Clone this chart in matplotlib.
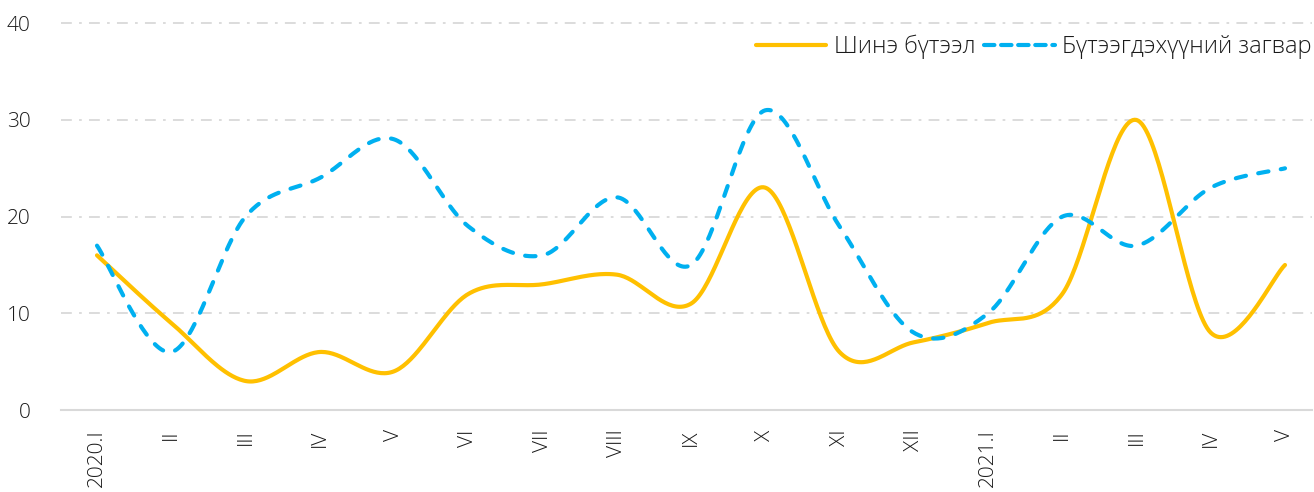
import matplotlib
matplotlib.use("Agg")
import matplotlib.pyplot as plt
import numpy as np
from matplotlib.lines import Line2D

plt.rcParams['font.family'] = ['Open Sans', 'DejaVu Sans']
plt.rcParams['font.weight'] = 'light'

categories = ["2020.I", "II", "III", "IV", "V", "VI", "VII", "VIII", "IX", "X",
              "XI", "XII", "2021.I", "II", "III", "IV", "V"]
new_build = [16, 9, 3, 6, 4, 12, 13, 14, 11, 23, 6, 7, 9, 12, 30, 8, 15]
product_model = [17, 6, 20, 24, 28, 19, 16, 22, 15, 31, 19, 8, 10, 20, 17, 23, 25]
series_names = ["Шинэ бүтээл", "Бүтээгдэхүүний загвар"]
yticks = [0, 10, 20, 30, 40]

YELLOW = "#FFC000"
BLUE = "#00B0F0"
GRID = "#D9D9D9"
TEXT = "#1A1A1A"


def smooth(xs, ys, n=40):
    """Excel-like smoothed line: cubic Bezier through points with Catmull-Rom controls."""
    P = np.column_stack([xs, ys]).astype(float)
    m = len(P)
    out = []
    for i in range(m - 1):
        p0 = P[i - 1] if i > 0 else P[i]
        p1 = P[i]
        p2 = P[i + 1]
        p3 = P[i + 2] if i + 2 < m else P[i + 1]
        c1 = p1 + (p2 - p0) / 6.0
        c2 = p2 - (p3 - p1) / 6.0
        t = np.linspace(0, 1, n, endpoint=(i == m - 2))[:, None]
        seg = ((1 - t) ** 3) * p1 + 3 * ((1 - t) ** 2) * t * c1 + 3 * (1 - t) * t ** 2 * c2 + t ** 3 * p2
        out.append(seg)
    out = np.vstack(out)
    return out[:, 0], out[:, 1]


W, H = 1314, 492
fig = plt.figure(figsize=(W / 100, H / 100), dpi=100)
ax = fig.add_axes([61 / W, 1 - 410 / H, (1312 - 61) / W, (410 - 23.3) / H])

x = np.arange(len(categories))
sx, sy = smooth(x, new_build)
ax.plot(sx, sy, color=YELLOW, lw=3.0, solid_capstyle='round', zorder=3)
bx, by = smooth(x, product_model)
ax.plot(bx, by, color=BLUE, lw=3.0, dashes=(2.5, 3.0), dash_capstyle='round', zorder=4)

ax.set_xlim(-36 / 74.25, (1312 - 97) / 74.25)
ax.set_ylim(0, 40)
ax.set_yticks(yticks)
ax.set_yticklabels([str(v) for v in yticks])
ax.set_xticks(x)
ax.set_xticklabels(categories, rotation=90, va='top', ha='center')

for s in ['top', 'right', 'left']:
    ax.spines[s].set_visible(False)
ax.spines['bottom'].set_color(GRID)
ax.spines['bottom'].set_linewidth(1.5)
ax.tick_params(axis='both', length=0, labelsize=15, colors=TEXT)
ax.tick_params(axis='y', pad=22)
ax.tick_params(axis='x', pad=14)

for v in yticks[1:]:
    ax.axhline(v, color=GRID, lw=1.3, dashes=(6, 4, 1.5, 4), zorder=1, clip_on=False)

handles = [Line2D([], [], color=YELLOW, lw=3.0, solid_capstyle='round'),
           Line2D([], [], color=BLUE, lw=3.0, dashes=(2.5, 1.6), dash_capstyle='round')]
leg = fig.legend(handles, series_names, loc='center right',
                 bbox_to_anchor=(1312 / W, 1 - 47 / H), ncol=2, frameon=False,
                 fontsize=17, handlelength=3.0, handletextpad=0.3, columnspacing=0.4,
                 borderpad=0, borderaxespad=0)
for t in leg.get_texts():
    t.set_color(TEXT)

fig.savefig("out.png", dpi=100)
